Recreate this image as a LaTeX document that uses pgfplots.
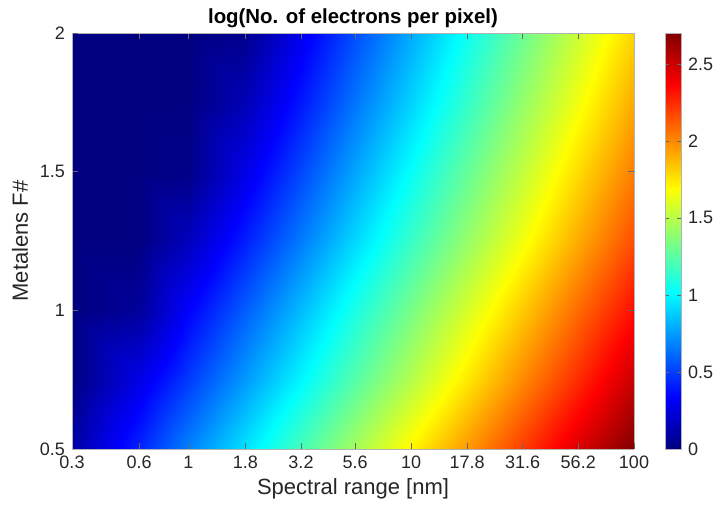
\documentclass[border=0pt]{standalone}
\usepackage{pgfplots}
\pgfplotsset{compat=1.18}
\usepackage{pgfplotstable}
\usepackage{fontspec}
\setmainfont{Liberation Sans}
\definecolor{txt}{HTML}{262626}
\pgfplotstableread{
x y z
0.3 0.5 0.10
0.6 0.5 0.43
1 0.5 0.68
1.8 0.5 0.94
3.2 0.5 1.20
5.6 0.5 1.45
10 0.5 1.71
17.8 0.5 1.96
31.6 0.5 2.21
56.2 0.5 2.46
100 0.5 2.70

0.3 0.75 0.00
0.6 0.75 0.27
1 0.75 0.49
1.8 0.75 0.745
3.2 0.75 0.995
5.6 0.75 1.24
10 0.75 1.49
17.8 0.75 1.745
31.6 0.75 2.00
56.2 0.75 2.25
100 0.75 2.51

0.3 1 0.00
0.6 1 0.07
1 1 0.33
1.8 1 0.585
3.2 1 0.835
5.6 1 1.08
10 1 1.33
17.8 1 1.58
31.6 1 1.83
56.2 1 2.08
100 1 2.33

0.3 1.25 0.00
0.6 1.25 0.00
1 1.25 0.16
1.8 1.25 0.415
3.2 1.25 0.665
5.6 1.25 0.91
10 1.25 1.16
17.8 1.25 1.41
31.6 1.25 1.66
56.2 1.25 1.91
100 1.25 2.16

0.3 1.5 0.00
0.6 1.5 0.00
1 1.5 0.02
1.8 1.5 0.27
3.2 1.5 0.525
5.6 1.5 0.775
10 1.5 1.025
17.8 1.5 1.28
31.6 1.5 1.53
56.2 1.5 1.78
100 1.5 2.03

0.3 1.75 0.00
0.6 1.75 0.00
1 1.75 0.00
1.8 1.75 0.14
3.2 1.75 0.395
5.6 1.75 0.645
10 1.75 0.895
17.8 1.75 1.15
31.6 1.75 1.405
56.2 1.75 1.655
100 1.75 1.91

0.3 2 0.00
0.6 2 0.00
1 2 0.00
1.8 2 0.035
3.2 2 0.29
5.6 2 0.54
10 2 0.79
17.8 2 1.045
31.6 2 1.30
56.2 2 1.55
100 2 1.80
}\datatable
\begin{document}
\begin{tikzpicture}
\begin{axis}[
  name=main,
  scale only axis,
  width=281pt, height=208pt,
  view={0}{90},
  xmode=log,
  xmin=0.3, xmax=100, ymin=0.5, ymax=2,
  xtick={0.3,0.6,1,1.8,3.2,5.6,10,17.8,31.6,56.2,100},
  xticklabels={0.3,0.6,1,1.8,3.2,5.6,10,17.8,31.6,56.2,100},
  minor xtick={},
  log ticks with fixed point,
  ytick={0.5,1,1.5,2},
  yticklabels={0.5,1,1.5,2},
  tick align=inside,
  major tick length=3pt,
  tick style={color=txt!70, line width=0.4pt},
  axis line style={color=black!30, line width=0.4pt},
  ticklabel style={font=\fontsize{9}{10}\selectfont, color=txt},
  xlabel={Spectral range [nm]},
  ylabel={Metalens F\#},
  label style={font=\fontsize{11}{12}\selectfont, color=txt},
  xlabel style={yshift=2pt},
  ylabel style={yshift=-1pt},
  title={\textbf{log(No. of electrons per pixel)}},
  title style={font=\fontsize{10.2}{12}\selectfont, color=black, yshift=-7pt},
  colormap/jet,
  point meta min=0, point meta max=2.7,
  colorbar,
  colorbar style={
    at={(parent axis.north east)}, anchor=north west,
    xshift=7pt, width=8pt,
    ytick={0,0.5,1,1.5,2,2.5},
    yticklabels={0,0.5,1,1.5,2,2.5},
    tick align=inside,
    major tick length=2pt,
    tick style={color=txt!70},
    axis line style={color=black!30},
    yticklabel style={font=\fontsize{9}{10}\selectfont, color=txt, inner sep=0.8pt, xshift=2.5pt},
  },
  axis on top,
]
\addplot3[surf, shader=interp, mesh/rows=7] table[x=x, y=y, z=z] {\datatable};
\end{axis}
\path (main.south west) ++(-36pt,-27.5pt) coordinate (bl);
\path (main.north east) ++(41.5pt,16.5pt) coordinate (tr);
\path (bl) rectangle (tr);
\end{tikzpicture}
\end{document}
